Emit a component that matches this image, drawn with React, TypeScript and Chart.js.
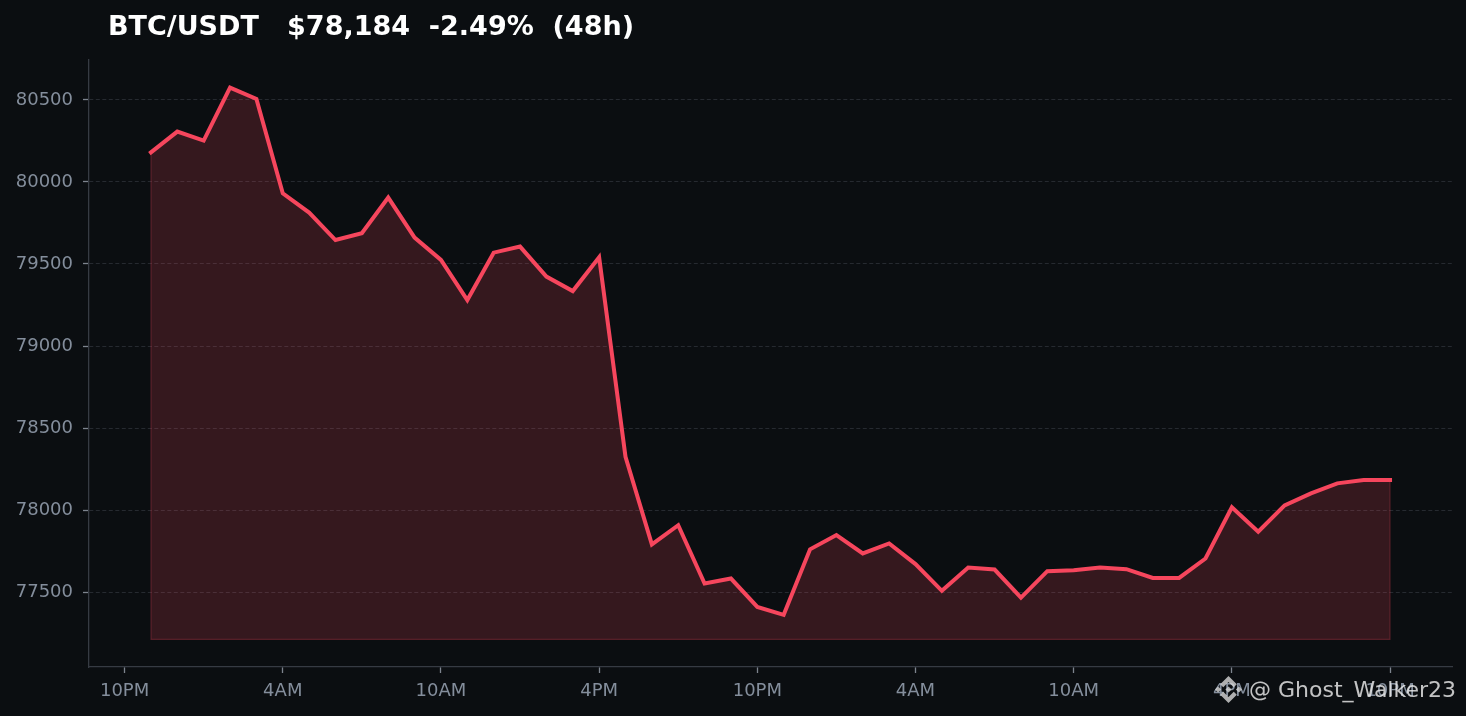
import React, { useEffect, useRef } from 'react';
import { Chart, registerables } from 'chart.js';

Chart.register(...registerables);

// hours after 10PM (first tick) for each hourly close
const hours = [
  1, 2, 3, 4, 5, 6, 7, 8, 9, 10, 11, 12,
  13, 14, 15, 16, 17, 18, 19, 20, 21, 22, 23, 24,
  25, 26, 27, 28, 29, 30, 31, 32, 33, 34, 35, 36,
  37, 38, 39, 40, 41, 42, 43, 44, 45, 46, 47, 48,
];

const prices = [
  80180, 80307, 80252, 80575, 80506, 79931, 79813, 79646, 79687, 79905, 79661, 79525,
  79280, 79569, 79606, 79423, 79335, 79541, 78325, 77791, 77908, 77553, 77583, 77410,
  77362, 77761, 77848, 77736, 77797, 77671, 77508, 77650, 77638, 77467, 77628, 77634,
  77650, 77640, 77587, 77587, 77705, 78017, 77868, 78029, 78102, 78163, 78183, 78184,
];

const xTickHours = [0, 6, 12, 18, 24, 30, 36, 42, 48];
const xTickLabels = ['10PM', '4AM', '10AM', '4PM', '10PM', '4AM', '10AM', '4PM', '10PM'];
const yTickValues = [77500, 78000, 78500, 79000, 79500, 80000, 80500];

const titleText = 'BTC/USDT   $78,184  -2.49%  (48h)';
const watermarkText = '@ Ghost_Walker23';

const BG = '#0b0e11';
const RED = '#f6465d';
const FILL = 'rgba(246,70,93,0.18)';
const EDGE = 'rgba(246,70,93,0.25)';
const GRID = '#262a30';
const SPINE = '#363b43';
const TICK = '#7d848e';
const LABEL = '#848e9c';
const FONT = "'DejaVu Sans', 'Liberation Sans', sans-serif";

export default function App() {
  const ref = useRef<HTMLCanvasElement>(null);

  useEffect(() => {
    document.body.style.margin = '0';
    document.body.style.background = BG;
    const canvas = ref.current;
    if (!canvas) return;

    const base = Math.min(...prices) - 150;
    const peak = Math.max(...prices);
    const yPad = (peak - base) * 0.05;
    const first = hours[0];
    const last = hours[hours.length - 1];
    const xPad = (last - first) * 0.05;

    const lineData = hours.map((h, i) => ({ x: h, y: prices[i] }));
    const edgeData = [
      { x: first, y: prices[0] },
      { x: first, y: base },
      { x: last, y: base },
      { x: last, y: prices[prices.length - 1] },
    ];

    const chart = new Chart(canvas, {
      type: 'line',
      data: {
        datasets: [
          {
            data: lineData,
            borderColor: RED,
            borderWidth: 4,
            backgroundColor: FILL,
            fill: { value: base },
            pointRadius: 0,
            tension: 0,
            borderCapStyle: 'square',
            borderJoinStyle: 'miter',
            order: 0,
          },
          {
            data: edgeData,
            borderColor: EDGE,
            borderWidth: 1.2,
            backgroundColor: 'transparent',
            fill: false,
            pointRadius: 0,
            tension: 0,
            order: 1,
          },
        ],
      },
      options: {
        animation: false,
        responsive: false,
        maintainAspectRatio: false,
        events: [],
        layout: { padding: { top: 60, right: 14, bottom: 0, left: 0 } },
        plugins: {
          legend: { display: false },
          tooltip: { enabled: false },
          title: { display: false },
        },
        scales: {
          x: {
            type: 'linear',
            min: first - xPad,
            max: last + xPad,
            afterBuildTicks: (scale: any) => {
              scale.ticks = xTickHours.map((v) => ({ value: v }));
            },
            afterFit: (scale: any) => {
              scale.height = 49;
            },
            ticks: {
              autoSkip: false,
              maxRotation: 0,
              minRotation: 0,
              padding: 8,
              color: LABEL,
              font: { family: FONT, size: 18 },
              callback: (value: any) => {
                const idx = xTickHours.indexOf(Number(value));
                return idx >= 0 ? xTickLabels[idx] : '';
              },
            },
            grid: {
              drawOnChartArea: false,
              drawTicks: true,
              tickLength: 6,
              tickColor: TICK,
              tickWidth: 1.3,
            },
            border: { display: true, color: SPINE, width: 1.3 },
          },
          y: {
            type: 'linear',
            min: base - yPad,
            max: peak + yPad,
            afterBuildTicks: (scale: any) => {
              scale.ticks = yTickValues.map((v) => ({ value: v }));
            },
            afterFit: (scale: any) => {
              scale.width = 89;
            },
            ticks: {
              autoSkip: false,
              padding: 10,
              color: LABEL,
              font: { family: FONT, size: 18 },
              callback: (value: any) => String(value),
            },
            grid: {
              color: GRID,
              lineWidth: 1,
              drawTicks: true,
              tickLength: 6,
              tickColor: TICK,
              tickWidth: 1.3,
              tickBorderDash: [],
            },
            border: { display: true, color: SPINE, width: 1.3, dash: [4, 2.5] },
          },
        },
      },
    } as any);

    return () => chart.destroy();
  }, []);

  return (
    <div
      style={{
        position: 'fixed',
        left: 0,
        top: 0,
        width: 1466,
        height: 716,
        background: BG,
        overflow: 'hidden',
      }}
    >
      <canvas
        ref={ref}
        width={1466}
        height={716}
        style={{ position: 'absolute', left: 0, top: 0, width: 1466, height: 716 }}
      />
      <div
        style={{
          position: 'absolute',
          left: 108,
          top: 12,
          fontFamily: FONT,
          fontWeight: 'bold',
          fontSize: 27,
          lineHeight: '27px',
          color: '#ffffff',
          whiteSpace: 'pre',
        }}
      >
        {titleText}
      </div>
      <svg
        viewBox="0 0 126.61 126.61"
        width={27}
        height={27}
        style={{ position: 'absolute', left: 1215, top: 676, opacity: 0.8 }}
      >
        <g fill="#d8d8d8">
          <path d="M38.73 53.2l24.59-24.58 24.6 24.6 14.3-14.31L63.32 0 24.43 38.89l14.3 14.31zM0 63.31l14.3-14.31 14.31 14.31-14.31 14.3zM38.73 73.41l24.59 24.59 24.6-24.6 14.31 14.29-38.9 38.91-38.91-38.88-.02-.02 14.33-14.29zM98 63.31l14.3-14.3 14.31 14.3-14.31 14.31z" />
          <path d="M77.83 63.3L63.32 48.78 52.59 59.51l-1.24 1.23-2.54 2.54 14.51 14.5 14.51-14.47z" />
        </g>
      </svg>
      <div
        style={{
          position: 'absolute',
          left: 1249,
          top: 679,
          fontFamily: FONT,
          fontSize: 22,
          lineHeight: '22px',
          color: 'rgba(235,235,235,0.82)',
          whiteSpace: 'pre',
        }}
      >
        {watermarkText}
      </div>
    </div>
  );
}
